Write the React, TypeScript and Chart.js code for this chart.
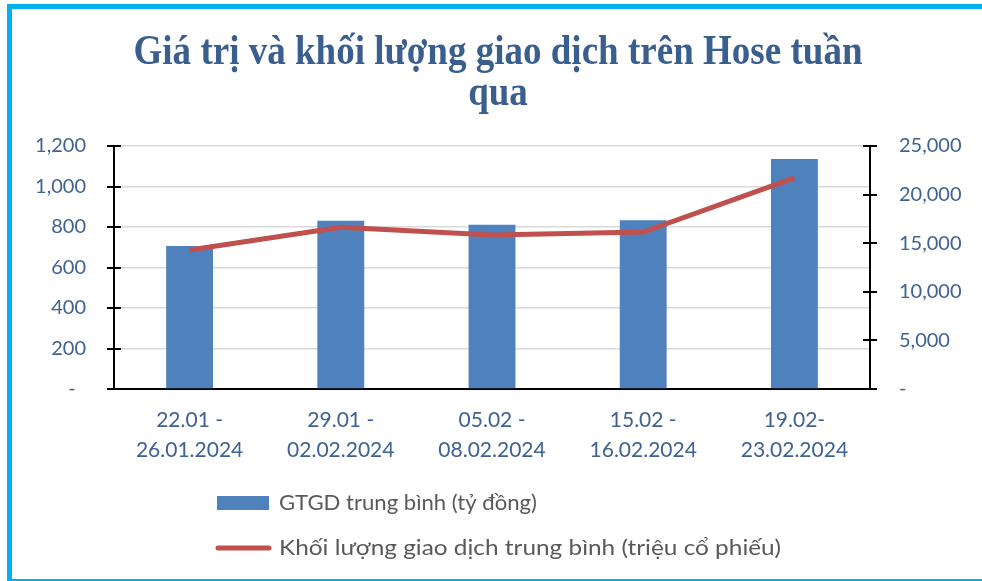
import React, { useEffect, useRef } from 'react';
import { Chart, registerables } from 'chart.js';

Chart.register(...registerables);

const TITLE_LINES = ['Giá trị và khối lượng giao dịch trên Hose tuần', 'qua'];
const CATEGORIES = [
  ['22.01 -', '26.01.2024'],
  ['29.01 -', '02.02.2024'],
  ['05.02 -', '08.02.2024'],
  ['15.02 -', '16.02.2024'],
  ['19.02-', '23.02.2024'],
];
const VALUE_LABEL = 'GTGD trung bình (tỷ đồng)';
const VOLUME_LABEL = 'Khối lượng giao dịch trung bình (triệu cổ phiếu)';
const VALUES = [706, 831, 811, 833, 1136];
const VOLUMES = [14300, 16640, 15840, 16150, 21710];
const LEFT_MAX = 1200;
const LEFT_STEP = 200;
const RIGHT_MAX = 25000;
const RIGHT_STEP = 5000;

const BAR_COLOR = '#4F81BD';
const LINE_COLOR = '#C0504D';
const TICK_COLOR = '#3E6293';
const TITLE_COLOR = '#3A5F8E';
const LEGEND_TEXT = '#595959';
const FONT = 'Lato';

const W = 982;
const H = 581;

const fmt = (v: number, left: boolean) =>
  v === 0 ? (left ? '-  ' : '-') : Number(v).toLocaleString('en-US');

const titlePlugin = {
  id: 'customTitle',
  afterDraw(chart: any) {
    const ctx = chart.ctx;
    ctx.save();
    ctx.fillStyle = TITLE_COLOR;
    ctx.font = 'bold 43px "Liberation Serif"';
    ctx.textAlign = 'center';
    ctx.textBaseline = 'alphabetic';
    const w = ctx.measureText(TITLE_LINES[0]).width;
    const sx = 729 / w;
    const ys = [64, 105];
    TITLE_LINES.forEach((t, i) => {
      ctx.save();
      ctx.translate(498, ys[i]);
      ctx.scale(sx, 1);
      ctx.fillText(t, 0, 0);
      ctx.restore();
    });
    ctx.restore();
  },
};

const crossTicksPlugin = {
  id: 'crossTicks',
  afterDraw(chart: any) {
    const ctx = chart.ctx;
    ctx.save();
    ctx.strokeStyle = '#000';
    ctx.lineWidth = 2;
    ['y', 'y1'].forEach((id) => {
      const s = chart.scales[id];
      const ax = id === 'y' ? s.right : s.left;
      s.ticks.forEach((t: any) => {
        const py = Math.round(s.getPixelForValue(t.value));
        ctx.beginPath();
        ctx.moveTo(ax - 7, py);
        ctx.lineTo(ax + 7, py);
        ctx.stroke();
      });
    });
    ctx.restore();
  },
};

const legendPlugin = {
  id: 'customLegend',
  afterDraw(chart: any) {
    const ctx = chart.ctx;
    const ds = chart.data.datasets;
    ctx.save();
    ctx.font = `21px ${FONT}`;
    ctx.textBaseline = 'middle';
    ctx.textAlign = 'left';
    const drawText = (t: string, x: number, y: number, targetW: number) => {
      const sx = targetW / ctx.measureText(t).width;
      ctx.save();
      ctx.translate(x, y);
      ctx.scale(sx, 1);
      ctx.fillText(t, 0, 0);
      ctx.restore();
    };
    // bar item
    ctx.fillStyle = ds[0].backgroundColor;
    ctx.fillRect(217, 496, 52, 14);
    ctx.fillStyle = LEGEND_TEXT;
    drawText(ds[0].label, 279, 503, 258);
    // line item
    ctx.strokeStyle = ds[1].borderColor;
    ctx.lineWidth = 5;
    ctx.lineCap = 'round';
    ctx.beginPath();
    ctx.moveTo(218, 548);
    ctx.lineTo(269, 548);
    ctx.stroke();
    ctx.fillStyle = LEGEND_TEXT;
    drawText(ds[1].label, 279, 548, 502);
    ctx.restore();
  },
};

export default function App() {
  const ref = useRef<HTMLCanvasElement>(null);

  useEffect(() => {
    if (!ref.current) return;
    const chart = new Chart(ref.current, {
      type: 'bar',
      data: {
        labels: CATEGORIES,
        datasets: [
          {
            type: 'bar',
            label: VALUE_LABEL,
            data: VALUES,
            backgroundColor: BAR_COLOR,
            yAxisID: 'y',
            barPercentage: 0.31,
            categoryPercentage: 1,
            order: 2,
          },
          {
            type: 'line',
            label: VOLUME_LABEL,
            data: VOLUMES,
            borderColor: LINE_COLOR,
            backgroundColor: LINE_COLOR,
            borderWidth: 5,
            pointRadius: 0,
            tension: 0,
            yAxisID: 'y1',
            order: 1,
          },
        ] as any,
      },
      options: {
        animation: false,
        responsive: false,
        devicePixelRatio: 1,
        layout: { padding: { top: 146, bottom: 112, left: 0, right: 0 } },
        plugins: {
          legend: { display: false },
          title: { display: false },
          tooltip: { enabled: false },
        },
        scales: {
          x: {
            grid: { display: false, drawTicks: false },
            border: { display: true, color: '#000', width: 2 },
            ticks: {
              color: TICK_COLOR,
              font: { family: FONT, size: 21, lineHeight: 1.4 },
              padding: 17,
              maxRotation: 0,
              autoSkip: false,
            },
            afterFit(s: any) {
              s.height = 80;
            },
          },
          y: {
            position: 'left',
            min: 0,
            max: LEFT_MAX,
            ticks: {
              stepSize: LEFT_STEP,
              color: TICK_COLOR,
              font: { family: FONT, size: 20 },
              padding: 28,
              callback: (v: any) => fmt(v, true),
            },
            grid: { color: '#D9D9D9', lineWidth: 1.5, drawTicks: false },
            border: { color: '#000', width: 2 },
            afterFit(s: any) {
              s.width = 114;
            },
          },
          y1: {
            position: 'right',
            min: 0,
            max: RIGHT_MAX,
            ticks: {
              stepSize: RIGHT_STEP,
              color: TICK_COLOR,
              font: { family: FONT, size: 20 },
              padding: 29,
              callback: (v: any) => fmt(v, false),
            },
            grid: { display: false, drawTicks: false },
            border: { color: '#000', width: 2 },
            afterFit(s: any) {
              s.width = 112;
            },
          },
        },
      } as any,
      plugins: [titlePlugin, crossTicksPlugin, legendPlugin],
    });
    return () => chart.destroy();
  }, []);

  return (
    <div style={{ position: 'absolute', left: 0, top: 0, width: W, height: H, background: '#fff', overflow: 'hidden' }}>
      <div
        style={{
          position: 'absolute',
          left: 7,
          top: 4,
          width: 1000,
          height: 577,
          boxSizing: 'border-box',
          borderTop: '5px solid #00B0F0',
          borderLeft: '5px solid #00B0F0',
          borderBottom: '2px solid #00B0F0',
        }}
      />
      <canvas ref={ref} width={W} height={H} style={{ position: 'absolute', left: 0, top: 0, width: W, height: H }} />
    </div>
  );
}
